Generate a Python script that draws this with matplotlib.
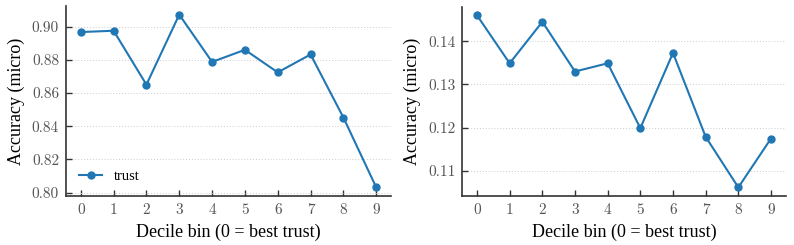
import matplotlib
matplotlib.use("Agg")
import matplotlib.pyplot as plt
import matplotlib.ticker as mticker

bins = list(range(10))
acc_left = [0.8968, 0.8976, 0.8651, 0.9073, 0.8788, 0.8861, 0.8725, 0.8833, 0.8453, 0.8032]
acc_right = [0.1460, 0.1349, 0.1445, 0.1330, 0.1349, 0.1199, 0.1373, 0.1179, 0.1062, 0.1175]
yticks_left = [0.80, 0.82, 0.84, 0.86, 0.88, 0.90]
yticks_right = [0.11, 0.12, 0.13, 0.14]
series_label = "trust"
xlabel = "Decile bin (0 = best trust)"
ylabel = "Accuracy (micro)"

plt.rcParams['font.family'] = ['Liberation Serif', 'DejaVu Serif']

fig = plt.figure(figsize=(7.94, 2.45), dpi=100)
ax0 = fig.add_axes([66/794, 1-196/245, (391-66)/794, (196-6)/245])
ax1 = fig.add_axes([462.3/794, 1-196/245, (785.7-462.3)/794, (196-6.7)/245])
color = '#2077b4'
for ax, vals, yt, lab in zip([ax0, ax1], [acc_left, acc_right], [yticks_left, yticks_right], [True, False]):
    ax.plot(bins, vals, '-o', color=color, lw=1.5, ms=5, label=series_label)
    ax.set_xticks(bins)
    ax.set_yticks(yt)
    ax.yaxis.set_major_formatter(mticker.FormatStrFormatter('%.2f'))
    ax.set_xlabel(xlabel, fontsize=13, labelpad=5)
    ax.set_ylabel(ylabel, fontsize=13, labelpad=5)
    ax.grid(axis='y', linestyle=(0, (1, 2)), color='#cccccc', lw=0.7)
    ax.set_axisbelow(True)
    for s in ['top', 'right']:
        ax.spines[s].set_visible(False)
    for s in ['left', 'bottom']:
        ax.spines[s].set_color('#333333')
        ax.spines[s].set_linewidth(1.2)
    ax.tick_params(direction='in', length=4, width=1, colors='#333333', labelcolor='#555555',
                   labelsize=11, pad=5, labelfontfamily='cmr10')
    if lab:
        ax.legend(loc='lower left', frameon=False, fontsize=10.5, handlelength=1.6)

fig.savefig('out.png', dpi=100)
